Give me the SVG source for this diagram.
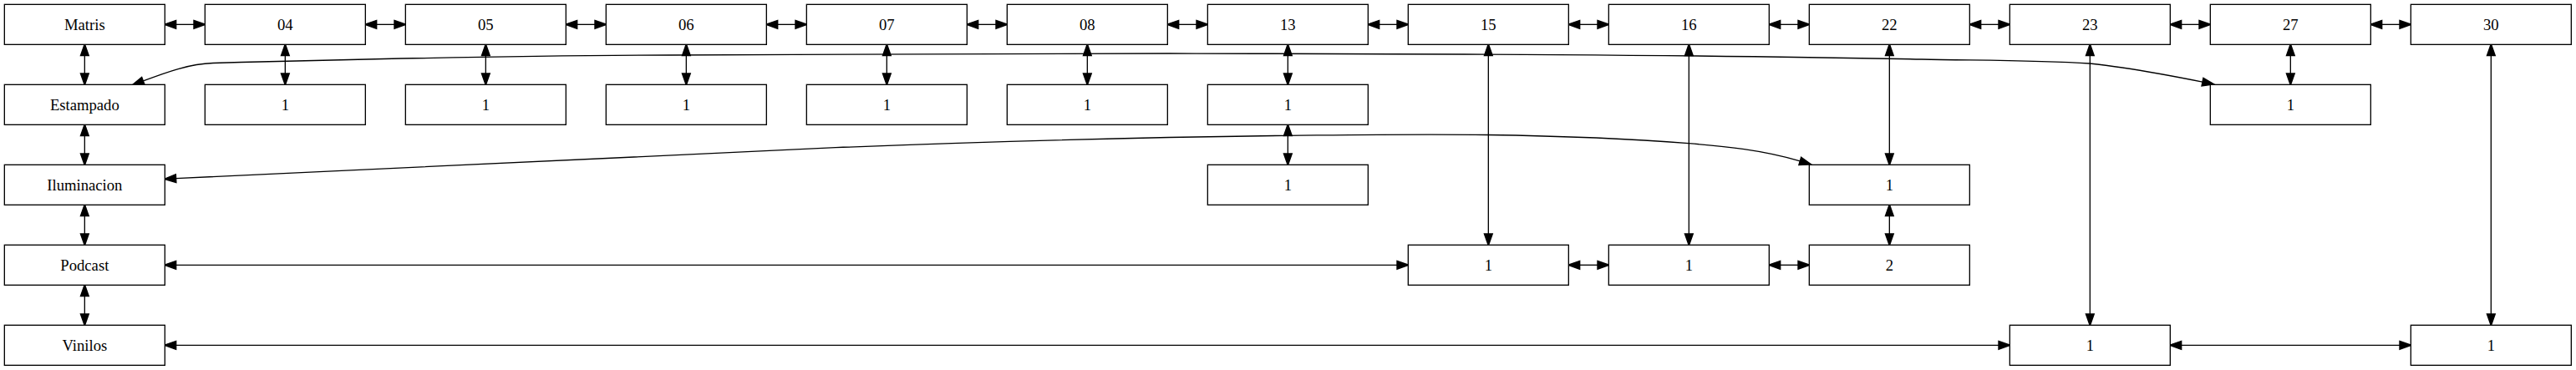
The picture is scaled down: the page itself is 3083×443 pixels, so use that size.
<svg xmlns="http://www.w3.org/2000/svg" width="3083" height="443" viewBox="0 0 3083 443">
<style>
.n rect{fill:#fff;stroke:#000;stroke-width:1.33}
.n text{font-family:"Liberation Serif","Times New Roman",serif;font-size:18.67px;text-anchor:middle;fill:#000}
.e{fill:none;stroke:#000;stroke-width:1.33;marker-start:url(#a);marker-end:url(#a)}
</style>
<defs>
<marker id="a" markerUnits="userSpaceOnUse" markerWidth="14" markerHeight="10" refX="0" refY="4.67" orient="auto-start-reverse" viewBox="0 0 13.33 9.33" overflow="visible">
<path d="M0,0 L13.33,4.67 L0,9.33 Z" fill="#000" stroke="#000" stroke-width="1.33"/>
</marker>
</defs>
<rect width="3083" height="443" fill="#fff"/>
<g id="edges">
<path class="e" d="M210.67,29.33H232"/>
<path class="e" d="M450.67,29.33H472"/>
<path class="e" d="M690.67,29.33H712"/>
<path class="e" d="M930.67,29.33H952"/>
<path class="e" d="M1170.67,29.33H1192"/>
<path class="e" d="M1410.67,29.33H1432"/>
<path class="e" d="M1650.67,29.33H1672"/>
<path class="e" d="M1890.67,29.33H1912"/>
<path class="e" d="M2130.67,29.33H2152"/>
<path class="e" d="M2370.67,29.33H2392"/>
<path class="e" d="M2610.67,29.33H2632"/>
<path class="e" d="M2850.67,29.33H2872"/>
<path class="e" d="M101.33,66.67V88"/>
<path class="e" d="M101.33,162.67V184"/>
<path class="e" d="M101.33,258.67V280"/>
<path class="e" d="M101.33,354.67V376"/>
<path class="e" d="M341.33,66.67V88"/>
<path class="e" d="M581.33,66.67V88"/>
<path class="e" d="M821.33,66.67V88"/>
<path class="e" d="M1061.33,66.67V88"/>
<path class="e" d="M1301.33,66.67V88"/>
<path class="e" d="M1541.33,66.67V88"/>
<path class="e" d="M1541.33,162.67V184"/>
<path class="e" d="M2741.33,66.67V88"/>
<path class="e" d="M1781.33,66.67V280"/>
<path class="e" d="M2021.33,66.67V280"/>
<path class="e" d="M2261.33,66.67V184"/>
<path class="e" d="M2261.33,258.67V280"/>
<path class="e" d="M2501.33,66.67V376"/>
<path class="e" d="M2981.33,66.67V376"/>
<path class="e" d="M210.67,317.33H1672"/>
<path class="e" d="M1890.67,317.33H1912"/>
<path class="e" d="M2130.67,317.33H2152"/>
<path class="e" d="M210.67,413.33H2392"/>
<path class="e" d="M2610.67,413.33H2872"/>
<path class="e" d="M171.4,96.9C199.4,86.3 227,76.3 255,75.5C437,70.5 618,66.7 800,66C1000,65.2 1200,64 1400,64C1700,64.6 2000,65 2300,71C2367,72.4 2440,72.3 2501,76C2546,80.5 2591,89.1 2636,98.1"/>
<path class="e" d="M210.6,213.6C473.7,199.4 736.9,187.2 1000,176.7C1180,169.5 1361,164.5 1541,162.3C1621,161.5 1700,160.3 1780,161.5C1860,162.7 1941,165.3 2021,171.7C2065,175.2 2110,179.6 2154.3,192.9"/>
</g>
<g id="matris" class="n"><rect x="5.33" y="5.33" width="192" height="48"/><text x="101.33" y="35.5">Matris</text></g>
<g id="n04" class="n"><rect x="245.33" y="5.33" width="192" height="48"/><text x="341.33" y="35.5">04</text></g>
<g id="n05" class="n"><rect x="485.33" y="5.33" width="192" height="48"/><text x="581.33" y="35.5">05</text></g>
<g id="n06" class="n"><rect x="725.33" y="5.33" width="192" height="48"/><text x="821.33" y="35.5">06</text></g>
<g id="n07" class="n"><rect x="965.33" y="5.33" width="192" height="48"/><text x="1061.33" y="35.5">07</text></g>
<g id="n08" class="n"><rect x="1205.33" y="5.33" width="192" height="48"/><text x="1301.33" y="35.5">08</text></g>
<g id="n13" class="n"><rect x="1445.33" y="5.33" width="192" height="48"/><text x="1541.33" y="35.5">13</text></g>
<g id="n15" class="n"><rect x="1685.33" y="5.33" width="192" height="48"/><text x="1781.33" y="35.5">15</text></g>
<g id="n16" class="n"><rect x="1925.33" y="5.33" width="192" height="48"/><text x="2021.33" y="35.5">16</text></g>
<g id="n22" class="n"><rect x="2165.33" y="5.33" width="192" height="48"/><text x="2261.33" y="35.5">22</text></g>
<g id="n23" class="n"><rect x="2405.33" y="5.33" width="192" height="48"/><text x="2501.33" y="35.5">23</text></g>
<g id="n27" class="n"><rect x="2645.33" y="5.33" width="192" height="48"/><text x="2741.33" y="35.5">27</text></g>
<g id="n30" class="n"><rect x="2885.33" y="5.33" width="192" height="48"/><text x="2981.33" y="35.5">30</text></g>
<g id="estampado" class="n"><rect x="5.33" y="101.33" width="192" height="48"/><text x="101.33" y="131.5">Estampado</text></g>
<g id="n04_1" class="n"><rect x="245.33" y="101.33" width="192" height="48"/><text x="341.33" y="131.5">1</text></g>
<g id="n05_1" class="n"><rect x="485.33" y="101.33" width="192" height="48"/><text x="581.33" y="131.5">1</text></g>
<g id="n06_1" class="n"><rect x="725.33" y="101.33" width="192" height="48"/><text x="821.33" y="131.5">1</text></g>
<g id="n07_1" class="n"><rect x="965.33" y="101.33" width="192" height="48"/><text x="1061.33" y="131.5">1</text></g>
<g id="n08_1" class="n"><rect x="1205.33" y="101.33" width="192" height="48"/><text x="1301.33" y="131.5">1</text></g>
<g id="n13_1" class="n"><rect x="1445.33" y="101.33" width="192" height="48"/><text x="1541.33" y="131.5">1</text></g>
<g id="n27_1" class="n"><rect x="2645.33" y="101.33" width="192" height="48"/><text x="2741.33" y="131.5">1</text></g>
<g id="iluminacion" class="n"><rect x="5.33" y="197.33" width="192" height="48"/><text x="101.33" y="227.5">Iluminacion</text></g>
<g id="n13_2" class="n"><rect x="1445.33" y="197.33" width="192" height="48"/><text x="1541.33" y="227.5">1</text></g>
<g id="n22_1" class="n"><rect x="2165.33" y="197.33" width="192" height="48"/><text x="2261.33" y="227.5">1</text></g>
<g id="podcast" class="n"><rect x="5.33" y="293.33" width="192" height="48"/><text x="101.33" y="323.5">Podcast</text></g>
<g id="n15_1" class="n"><rect x="1685.33" y="293.33" width="192" height="48"/><text x="1781.33" y="323.5">1</text></g>
<g id="n16_1" class="n"><rect x="1925.33" y="293.33" width="192" height="48"/><text x="2021.33" y="323.5">1</text></g>
<g id="n22_2" class="n"><rect x="2165.33" y="293.33" width="192" height="48"/><text x="2261.33" y="323.5">2</text></g>
<g id="vinilos" class="n"><rect x="5.33" y="389.33" width="192" height="48"/><text x="101.33" y="419.5">Vinilos</text></g>
<g id="n23_1" class="n"><rect x="2405.33" y="389.33" width="192" height="48"/><text x="2501.33" y="419.5">1</text></g>
<g id="n30_1" class="n"><rect x="2885.33" y="389.33" width="192" height="48"/><text x="2981.33" y="419.5">1</text></g>
</svg>
